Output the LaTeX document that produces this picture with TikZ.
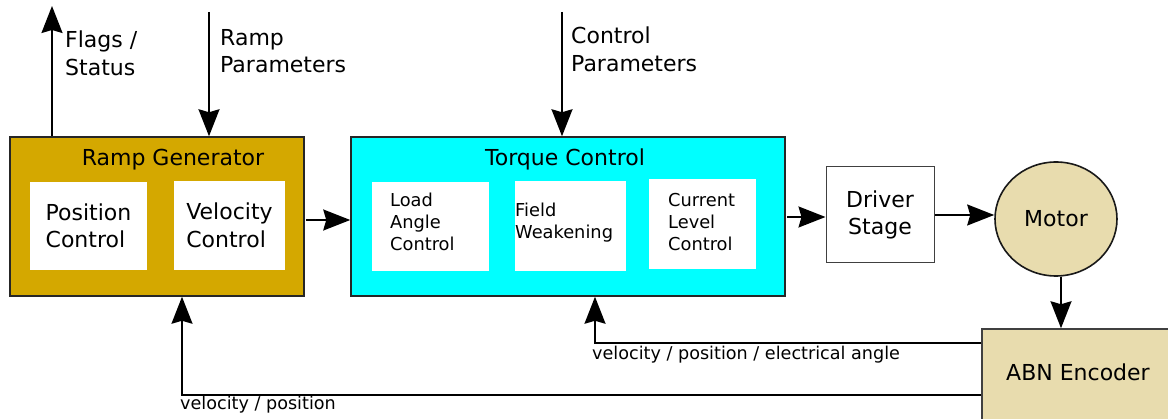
\documentclass[tikz,border=0pt]{standalone}
\usepackage{fontspec}
\setmainfont{DejaVu Sans}
\usetikzlibrary{arrows.meta,shapes.geometric}
\definecolor{rampgold}{RGB}{212,168,0}
\definecolor{tcyan}{RGB}{0,255,255}
\definecolor{tan}{RGB}{232,220,174}
\begin{document}
\begin{tikzpicture}[x=1pt,y=-1pt,
  outer/.style={draw=black!85,line width=1.5pt,inner sep=0pt},
  inner/.style={fill=white,draw=none,inner sep=0pt},
  big/.style={font=\fontsize{22}{27.5}\selectfont},
  small/.style={font=\fontsize{17.8}{22}\selectfont},
  lab/.style={font=\fontsize{17.6}{20}\selectfont,inner sep=0pt},
  arr/.style={line width=1.8pt,-{Stealth[length=27pt,width=21pt,inset=3pt]}},
  txt/.style={inner sep=0pt,align=left}]
\useasboundingbox (0,0) rectangle (1168,419);
% Ramp generator
\node[outer,fill=rampgold,minimum width=294pt,minimum height=159pt] (ramp) at (157,216.5) {};
\node[txt,big] (rampt) at (173,160) {Ramp Generator};
\node[inner,minimum width=117pt,minimum height=88pt] (pos) at (88.5,226) {};
\node[txt,big] at (pos.center) {Position\\Control};
\node[inner,minimum width=111pt,minimum height=89pt] (vel) at (229.5,225.5) {};
\node[txt,big] at (vel.center) {Velocity\\Control};
% Torque control
\node[outer,fill=tcyan,minimum width=434pt,minimum height=159pt] (torque) at (568,216.5) {};
\node[txt,big] (torquet) at (565,159) {Torque Control};
\node[inner,minimum width=117pt,minimum height=89pt] (load) at (430.5,226.5) {};
\node[txt,small,anchor=west] at (390,221.5) {Load\\Angle\\Control};
\node[inner,minimum width=111pt,minimum height=90pt] (field) at (570.5,226) {};
\node[txt,small,anchor=west] at (515,223) {Field\\Weakening};
\node[inner,minimum width=107pt,minimum height=90pt] (curr) at (702.5,224) {};
\node[txt,small,anchor=west] at (668,222) {Current\\Level\\Control};
% Driver, motor, encoder
\node[draw=black!75,line width=1pt,fill=white,minimum width=108pt,minimum height=96pt,inner sep=0pt,big,align=center] (drv) at (880,215) {Driver\\Stage};
\node[draw=black!90,line width=1.6pt,fill=tan,ellipse,minimum width=122pt,minimum height=114pt,inner sep=0pt,big] (motor) at (1056,219) {Motor};
\node[draw=black!75,line width=1.5pt,fill=tan,minimum width=200pt,minimum height=92pt,inner sep=0pt] (abn) at (1082,375) {};
\node[big,inner sep=0pt] at (1078,372) {ABN Encoder};
% top arrows
\coordinate (flagtop) at (52,6);
\coordinate (ramptop) at (209,12);
\coordinate (ctrltop) at (562,12);
\draw[arr] (flagtop |- ramp.north) -- (flagtop);
\draw[arr] (ramptop) -- (ramptop |- ramp.north);
\draw[arr] (ctrltop) -- (ctrltop |- torque.north);
\node[txt,big,anchor=north west] at (65,31) {Flags /\\Status};
\node[txt,big,anchor=north west] at (220,29) {Ramp\\Parameters};
\node[txt,big,anchor=north west] at (571,27) {Control\\Parameters};
% horizontal arrows
\coordinate (ra) at (306,220);
\coordinate (ta) at (787,217);
\coordinate (da) at (935,215);
\coordinate (ma) at (1061,277);
\draw[arr] (ra) -- (ra -| torque.west);
\draw[arr] (ta) -- (ta -| drv.west);
\draw[arr] (da) -- (da -| motor.west);
\draw[arr] (ma) -- (ma |- abn.north);
% feedback
\coordinate (f1) at (595,343);
\coordinate (f2) at (182,395);
\draw[arr,line width=1.6pt] (f1 -| abn.west) -- (f1) -- (f1 |- torque.south);
\draw[arr,line width=1.6pt] (f2 -| abn.west) -- (f2) -- (f2 |- ramp.south);
\node[lab,anchor=west] at (592,355) {velocity / position / electrical angle};
\node[lab,anchor=west] at (180,405) {velocity / position};
\end{tikzpicture}
\end{document}
